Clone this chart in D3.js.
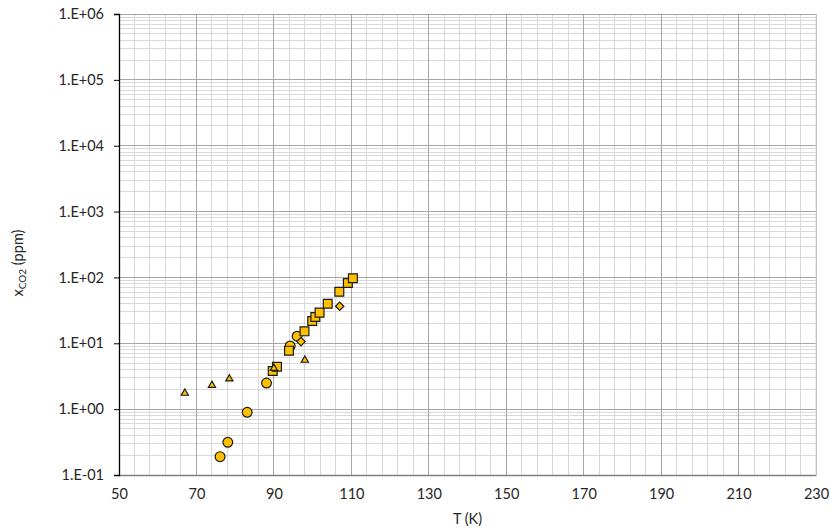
<!DOCTYPE html>
<html><head><meta charset="utf-8">
<script src="https://cdn.jsdelivr.net/npm/d3@7"></script>
<style>body{margin:0;background:#fff}svg{display:block}text{font-family:Lato,"Open Sans",sans-serif;fill:#262626}</style>
</head><body>
<svg id="c" width="830" height="531"></svg>
<script>
// Data (T in K, x_CO2 in ppm)
const circleT = [76.1, 78.1, 83.1, 88.1, 94.2, 96.0];
const circleX = [0.19, 0.314, 0.895, 2.49, 9.1, 12.8];
const squareT = [89.7, 90.8, 93.9, 97.9, 99.9, 100.7, 101.8, 103.9, 106.9, 109.1, 110.4];
const squareX = [3.8, 4.41, 7.72, 15.2, 21.8, 25.1, 29.2, 39.9, 60.7, 82.4, 97];
const triangleT = [67.0, 74.0, 78.5, 90.0, 98.0];
const triangleX = [1.78, 2.35, 2.94, 4.26, 5.64];
const diamondT = [97.0, 107.0];
const diamondX = [10.6, 36.5];
const xTicks = [50, 70, 90, 110, 130, 150, 170, 190, 210, 230];
const yTicks = [0.1, 1, 10, 100, 1000, 10000, 100000, 1000000];
const yTickLabels = ["1.E-01","1.E+00","1.E+01","1.E+02","1.E+03","1.E+04","1.E+05","1.E+06"];

const svg = d3.select("#c");
const L = 119, R = 816, T = 14, B = 475;
const x = d3.scaleLinear().domain([50, 230]).range([L, R]);
const y = d3.scaleLog().domain([0.1, 1e6]).range([B, T]);

const g = svg.append("g");
// minor vertical grid every 4
const minorX = d3.range(50, 231, 4).filter(v => (v - 50) % 20 !== 0);
g.selectAll(".vmin").data(minorX).enter().append("line")
  .attr("x1", d => x(d)).attr("x2", d => x(d)).attr("y1", T).attr("y2", B)
  .attr("stroke", "#d9d9d9").attr("stroke-width", 1).attr("shape-rendering","crispEdges");
// minor horizontal grid
const minorY = [];
for (let e = -1; e < 6; e++) for (let k = 2; k <= 9; k++) minorY.push(k * Math.pow(10, e));
g.selectAll(".hmin").data(minorY).enter().append("line")
  .attr("x1", L).attr("x2", R).attr("y1", d => y(d)).attr("y2", d => y(d))
  .attr("stroke", "#d9d9d9").attr("stroke-width", 1).attr("shape-rendering","crispEdges");
// major vertical
g.selectAll(".vmaj").data(xTicks.slice(1)).enter().append("line")
  .attr("x1", d => x(d)).attr("x2", d => x(d)).attr("y1", T).attr("y2", B)
  .attr("stroke", "#a6a6a6").attr("stroke-width", 1).attr("shape-rendering","crispEdges");
// major horizontal
g.selectAll(".hmaj").data(yTicks.slice(1)).enter().append("line")
  .attr("x1", L).attr("x2", R).attr("y1", d => y(d)).attr("y2", d => y(d))
  .attr("stroke", "#a6a6a6").attr("stroke-width", 1).attr("shape-rendering","crispEdges");

// axes
const xAxis = svg.append("g").attr("transform", `translate(0,${B})`)
  .call(d3.axisBottom(x).tickValues(xTicks).tickSize(0).tickPadding(14).tickFormat(d3.format("d")));
xAxis.select(".domain").attr("stroke", "#7f7f7f").attr("stroke-width", 1.5);
xAxis.selectAll("text").attr("font-size", "14.5px").attr("fill", "#262626").attr("font-family","Lato");

const yAxis = svg.append("g").attr("transform", `translate(${L},0)`)
  .call(d3.axisLeft(y).tickValues(yTicks).tickSize(5).tickPadding(10).tickFormat((d, i) => yTickLabels[i]));
yAxis.select(".domain").attr("stroke", "#000").attr("stroke-width", 1.3);
yAxis.selectAll(".tick line").attr("stroke", "#000");
yAxis.selectAll("text").attr("font-size", "14.5px").attr("fill", "#262626").attr("font-family","Lato");

// right edge line
svg.append("line").attr("x1", R).attr("x2", R).attr("y1", T).attr("y2", B)
  .attr("stroke", "#d9d9d9");

// markers
const fill = "#FFC000", stroke = "#1a1a1a";
const circ = circleT.map((t, i) => ({t, v: circleX[i]}));
const sq = squareT.map((t, i) => ({t, v: squareX[i]}));
const tri = triangleT.map((t, i) => ({t, v: triangleX[i]}));
const dia = diamondT.map((t, i) => ({t, v: diamondX[i]}));

svg.append("g").selectAll("circle").data(circ).enter().append("circle")
  .attr("cx", d => x(d.t)).attr("cy", d => y(d.v)).attr("r", 4.9)
  .attr("fill", fill).attr("stroke", stroke).attr("stroke-width", 1.2);
svg.append("g").selectAll("path").data(sq).enter().append("path")
  .attr("transform", d => `translate(${x(d.t)},${y(d.v)})`)
  .attr("d", d3.symbol(d3.symbolSquare, 78)())
  .attr("fill", fill).attr("stroke", stroke).attr("stroke-width", 1.2);
svg.append("g").selectAll("path").data(tri).enter().append("path")
  .attr("transform", d => `translate(${x(d.t)},${y(d.v)})`)
  .attr("d", "M0,-3.6L3.6,2.6L-3.6,2.6Z")
  .attr("fill", fill).attr("stroke", stroke).attr("stroke-width", 1.2);
svg.append("g").selectAll("path").data(dia).enter().append("path")
  .attr("transform", d => `translate(${x(d.t)},${y(d.v)})`)
  .attr("d", "M0,-4.2L4.2,0L0,4.2L-4.2,0Z")
  .attr("fill", fill).attr("stroke", stroke).attr("stroke-width", 1.2);

// axis titles
svg.append("text").attr("x", (L + R) / 2).attr("y", 524).attr("text-anchor", "middle")
  .attr("font-size", "14.5px").text("T (K)");
const yt = svg.append("text").attr("transform", "translate(23,263) rotate(-90)")
  .attr("text-anchor", "middle").attr("font-size", "14.5px");
yt.append("tspan").text("x");
yt.append("tspan").attr("font-size", "10px").attr("dy", 3).text("CO2");
yt.append("tspan").attr("dy", -3).text(" (ppm)");
</script>
</body></html>
